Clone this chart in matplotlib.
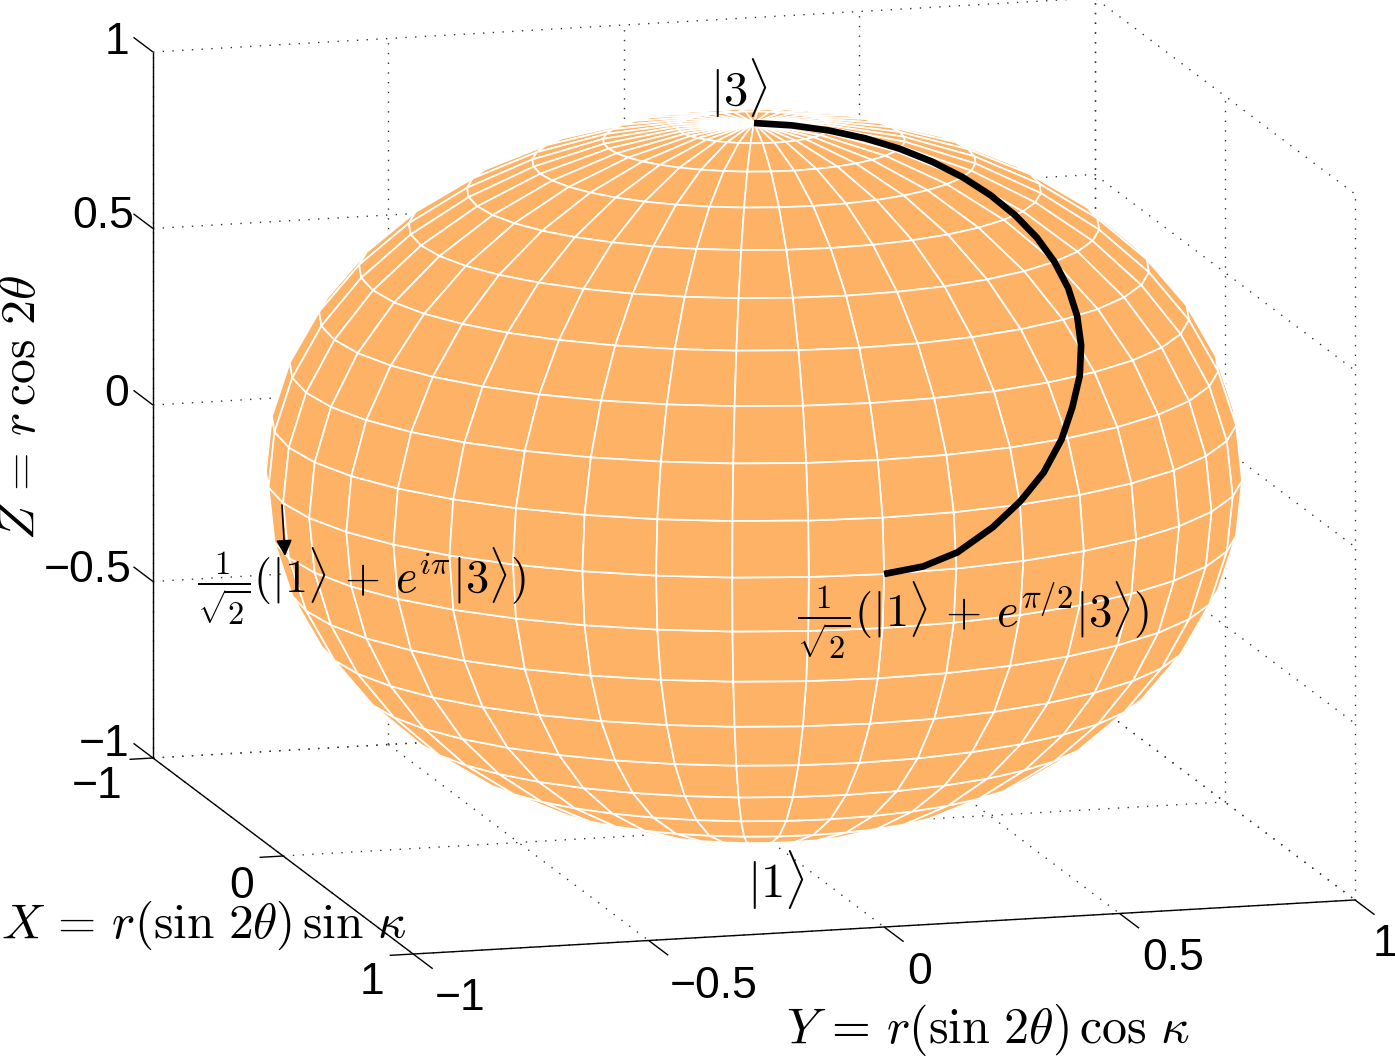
import numpy as np
import matplotlib
matplotlib.use("Agg")
import matplotlib.pyplot as plt
from mpl_toolkits.mplot3d import proj3d

plt.rcParams['mathtext.fontset'] = 'cm'
plt.rcParams['font.family'] = ['Liberation Sans', 'DejaVu Sans']

# sphere mesh (degrees), 9 degree cells
polar_rings = np.linspace(0, 180, 21)
kappa_lines = np.linspace(0, 360, 41)
radius = 1.0

# black path (polar angle 2*theta and kappa, degrees)
path_polar = [0, 4.5, 9, 13.5, 18, 22.5, 27, 31.5, 36, 40.5, 45, 49.5, 54, 58.5,
              63, 67.5, 72, 76.6, 80.5, 84, 87.4, 89.2, 90]
path_kappa = [22.5, 24.6, 26.7, 28.8, 30.9, 33.1, 35.3, 37.6, 40.0, 42.4, 45.0, 47.7, 50.6, 53.7,
              57.0, 60.6, 64.0, 67.9, 71.9, 76.0, 80.8, 85.2, 90.0]

# ticks
x_ticks = [-1, 0, 1]
y_ticks = [-1, -0.5, 0, 0.5, 1]
z_ticks = [-1, -0.5, 0, 0.5, 1]
x_tick_labels = ['\u22121', '0', '1']
y_tick_labels = ['\u22121', '\u22120.5', '0', '0.5', '1']
z_tick_labels = ['\u22121', '\u22120.5', '0', '0.5', '1']

W, H = 1395, 1057
ORANGE = '#fdb266'

fig = plt.figure(figsize=(W / 100, H / 100), dpi=100)
ax = fig.add_axes([0, 0, 1, W / H], projection='3d', proj_type='ortho')
ax.computed_zorder = False
ax.set_xlim(-1, 1)
ax.set_ylim(-1, 1)
ax.set_zlim(-1, 1)
ax.set_box_aspect((977, 976, 721))
ax.view_init(elev=12.0, azim=-15.43)
ax.set_axis_off()


def seg(x, y, z, **kw):
    ax.plot(x, y, z, clip_on=False, **kw)


grid_style = dict(color='#333333', lw=1.0, ls=(0, (1, 6)), zorder=1)
axis_style = dict(color='black', lw=1.0, zorder=2, solid_capstyle='butt')

# dotted grid on the back walls and the floor
for z in z_ticks:
    seg([-1, -1], [-1, 1], [z, z], **grid_style)
    seg([-1, 1], [1, 1], [z, z], **grid_style)
for y in y_ticks:
    seg([-1, -1], [y, y], [-1, 1], **grid_style)
    seg([-1, 1], [y, y], [-1, -1], **grid_style)
for x in x_ticks:
    seg([x, x], [1, 1], [-1, 1], **grid_style)
    seg([x, x], [-1, 1], [-1, -1], **grid_style)

# solid axes and tick stubs
seg([-1, -1], [-1, -1], [-1, 1], **axis_style)
seg([-1, 1], [-1, -1], [-1, -1], **axis_style)
seg([1, 1], [-1, 1], [-1, -1], **axis_style)
for z in z_ticks:
    seg([-1, -1.15], [-1, -1], [z, z], **axis_style)
for x in x_ticks:
    seg([x, x], [-1, -1.05], [-1, -1], **axis_style)
for y in y_ticks:
    seg([1, 1.15], [y, y], [-1, -1], **axis_style)

# sphere
pol, kap = np.meshgrid(np.radians(polar_rings), np.radians(kappa_lines))
X = radius * np.sin(pol) * np.sin(kap)
Y = radius * np.sin(pol) * np.cos(kap)
Z = radius * np.cos(pol)
surf = ax.plot_surface(X, Y, Z, rstride=1, cstride=1, color=ORANGE, shade=False,
                       edgecolor='white', linewidth=1.25, antialiased=True, zorder=3)
surf.set_clip_on(False)

# path on the sphere
p = np.radians(path_polar)
k = np.radians(path_kappa)
seg(radius * np.sin(p) * np.sin(k), radius * np.sin(p) * np.cos(k), radius * np.cos(p),
    color='black', lw=4.8, zorder=4, solid_capstyle='butt', solid_joinstyle='round')


# move the axes so that two box corners land on the reference pixels
def to_px(x, y, z):
    u, v, _ = proj3d.proj_transform(x, y, z, ax.get_proj())
    return ax.transData.transform((u, v))


fig.canvas.draw()
a = to_px(-1, -1, -1)
b = to_px(1, 1, -1)
bb = ax.get_window_extent()
s = (1355 - 153) / (b[0] - a[0])
x0 = 153 - (a[0] - bb.x0) * s
y0 = (H - 758) - (a[1] - bb.y0) * s
ax.set_position([x0 / W, y0 / H, bb.width * s / W, bb.height * s / H])


def label(px, py, txt, **kw):
    kw.setdefault('ha', 'center')
    kw.setdefault('va', 'center')
    fig.text(px / W, 1 - py / H, txt, **kw)


# tick labels
for pos, txt in zip([(97, 787), (242, 887), (372, 982)], x_tick_labels):
    label(pos[0], pos[1], txt, fontsize=32)
for pos, txt in zip([(460, 999), (714, 987), (920, 972), (1173, 959), (1385, 945)], y_tick_labels):
    label(pos[0], pos[1], txt, fontsize=32)
for pos, txt in zip([(104, 745), (88, 570), (117, 394), (103, 217), (117, 42)], z_tick_labels):
    label(pos[0], pos[1], txt, fontsize=32)

# axis labels and state labels
label(204, 925, r'$X\,=\,r(\sin\,2\theta)\,\sin\,\kappa$', fontsize=35.5)
label(988, 1030, r'$Y\,=\,r(\sin\,2\theta)\,\cos\,\kappa$', fontsize=36)
label(22, 408, r'$Z\,=\,r\,\cos\,2\theta$', fontsize=35.8, rotation=90)
label(739, 88, r'$|3\rangle$', fontsize=35)
label(776, 880, r'$|1\rangle$', fontsize=35)
label(361, 586, r'$\frac{1}{\sqrt{2}}(|1\rangle\,+\,e^{i\pi}|3\rangle)$', fontsize=33.3)
label(973, 620, r'$\frac{1}{\sqrt{2}}(|1\rangle\,+\,e^{\pi/2}|3\rangle)$', fontsize=33.5)

# arrow to the left state label
ax.annotate('', xy=(285, H - 556), xytext=(282, H - 505),
            xycoords='figure pixels', textcoords='figure pixels', zorder=6,
            arrowprops=dict(arrowstyle='-|>', color='black', lw=1.2, mutation_scale=24,
                            shrinkA=0, shrinkB=0), annotation_clip=False)

fig.savefig('out.png', dpi=100)
